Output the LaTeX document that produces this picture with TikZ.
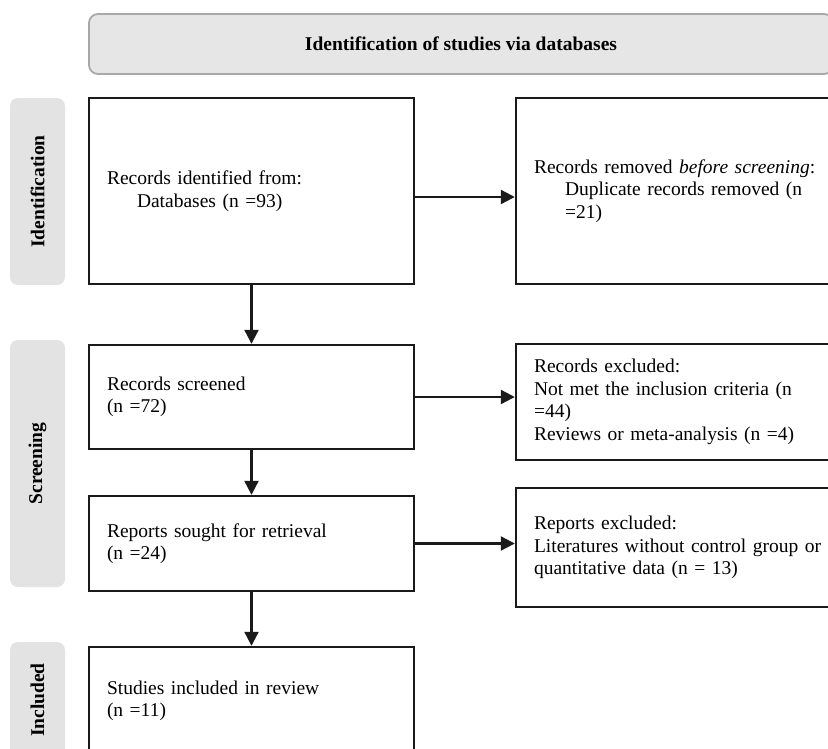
\documentclass[tikz,border=0pt]{standalone}
\usepackage{fontspec}
\setmainfont{Liberation Serif}
\usepackage{xcolor}
\usetikzlibrary{arrows.meta}
\definecolor{bannergray}{HTML}{E6E6E6}
\definecolor{edgegray}{HTML}{A8A8A8}
\definecolor{sidegray}{HTML}{E3E3E3}
\definecolor{boxblack}{HTML}{1A1A1A}

\begin{document}
\begin{tikzpicture}[x=1pt, y=1pt,
  flowbox/.style={draw=boxblack, line width=2.4pt, text width=289pt, inner xsep=18pt, align=left, font=\fontsize{19.5}{22.5}\selectfont},
  sidelabel/.style={fill=sidegray, rounded corners=8pt, rotate=90, minimum height=55pt, font=\fontsize{19.5}{22}\selectfont\bfseries},
  flowarrow/.style={draw=boxblack, line width=2.2pt, -{Triangle[length=14pt, width=14pt]}}]
  \useasboundingbox (0,0) rectangle (828,-748);
  \node[fill=bannergray, draw=edgegray, line width=1.8pt, rounded corners=9pt, minimum width=744pt, minimum height=60pt, font=\fontsize{19.5}{22.5}\selectfont\bfseries] (banner) at (461,-44) {Identification of studies via databases};
  \node[sidelabel, minimum width=187pt] (idlab) at (37.5,-191.5) {Identification};
  \node[sidelabel, minimum width=247pt] (scrlab) at (37.5,-463.5) {Screening};
  \node[sidelabel, minimum width=116pt] (inclab) at (37.5,-700) {Included};
  \node[flowbox, minimum height=186pt] (ident) at (251.5,-191) {Records identified from:\\\hspace*{30pt}Databases (n =93)};
  \node[flowbox, minimum height=186pt] (removed) at (678.5,-191) {Records removed \textit{before screening}:\\\hspace*{31pt}Duplicate records removed (n\\\hspace*{31pt}=21)};
  \node[flowbox, minimum height=104pt] (screened) at (251.5,-397) {Records screened\\(n =72)};
  \node[flowbox, minimum height=116pt] (excl) at (678.5,-402) {Records excluded:\\Not met the inclusion criteria (n\\=44)\\Reviews or meta-analysis (n =4)};
  \node[flowbox, minimum height=95pt] (sought) at (251.5,-543.5) {Reports sought for retrieval\\(n =24)};
  \node[flowbox, minimum height=119pt] (repexcl) at (678.5,-547.5) {Reports excluded:\\Literatures without control group or\\quantitative data (n = 13)};
  \node[flowbox, minimum height=108pt] (included) at (251.5,-701) {Studies included in review\\(n =11)};
  \draw[flowarrow] ([yshift=-6pt]ident.east) -- ([yshift=-6pt]ident.east -| removed.west);
  \draw[flowarrow] (ident.south) -- (screened.north);
  \draw[flowarrow] (screened.east) -- (screened.east -| excl.west);
  \draw[flowarrow] (screened.south) -- (sought.north);
  \draw[flowarrow] (sought.east) -- (sought.east -| repexcl.west);
  \draw[flowarrow] (sought.south) -- (included.north);
\end{tikzpicture}
\end{document}
